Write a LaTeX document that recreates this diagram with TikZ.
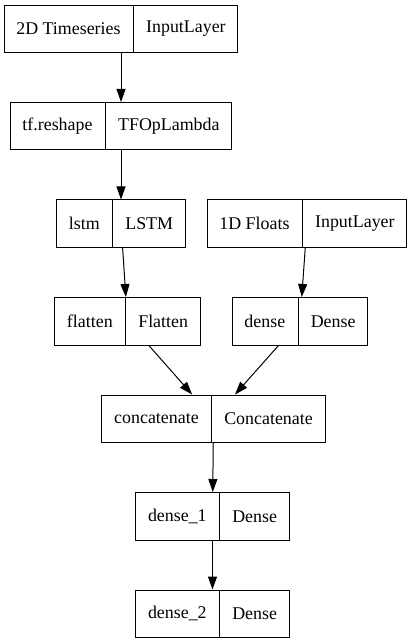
\documentclass[tikz,border=0pt]{standalone}
\usepackage{fontspec}
\setmainfont{Liberation Serif}
\usetikzlibrary{shapes.multipart,arrows.meta}

\tikzset{
  layer/.style={draw, rectangle split, rectangle split horizontal,
    rectangle split parts=2, line width=1pt, inner xsep=12.3pt,
    inner ysep=0pt, minimum height=47.5pt,
    font=\fontsize{17.9pt}{20pt}\selectfont},
  flow/.style={-{Triangle[length=13pt,width=9pt]}, line width=1pt}
}

\begin{document}
\begin{tikzpicture}[x=1pt,y=-1pt]
    \useasboundingbox (0,0) rectangle (411,644);

    % left branch
    \node[layer] (ts) at (121,29) {2D Timeseries \nodepart{two} InputLayer};
    \node[layer] (reshape) at (121,126.25) {tf.reshape \nodepart{two} TFOpLambda};
    \node[layer] (lstm) at (121,223.75) {lstm \nodepart{two} LSTM};
    \node[layer] (flatten) at (127.5,321.25) {flatten \nodepart{two} Flatten};

    % right branch
    \node[layer] (floats) at (307,223.75) {1D Floats \nodepart{two} InputLayer};
    \node[layer] (dense) at (300,321.25) {dense \nodepart{two} Dense};

    % merged
    \node[layer] (concat) at (213.5,418.75) {concatenate \nodepart{two} Concatenate};
    \node[layer] (denseA) at (212.5,516.25) {dense\_1 \nodepart{two} Dense};
    \node[layer] (denseB) at (212.5,613.75) {dense\_2 \nodepart{two} Dense};

    \draw[flow] (ts) -- (reshape);
    \draw[flow] (reshape) -- (lstm);
    \draw[flow] (lstm) -- (flatten);
    \draw[flow] (floats) -- (dense);
    \draw[flow] (flatten) -- (concat);
    \draw[flow] (dense) -- (concat);
    \draw[flow] (concat) -- (denseA);
    \draw[flow] (denseA) -- (denseB);
\end{tikzpicture}
\end{document}
